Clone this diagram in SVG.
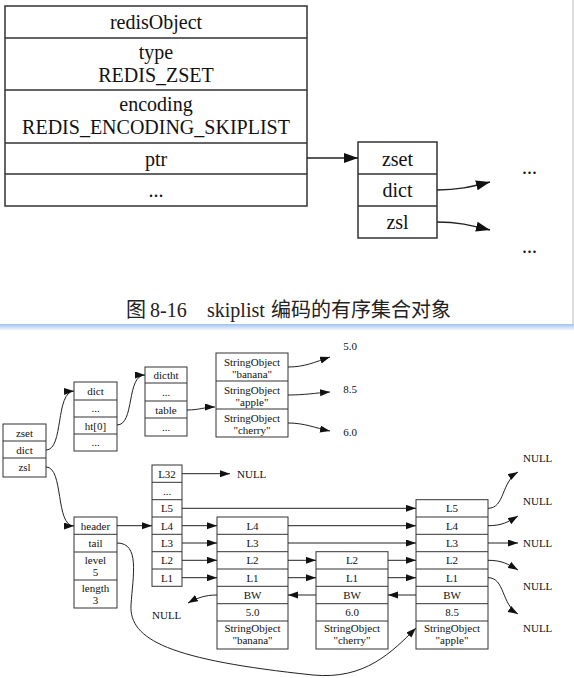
<svg xmlns="http://www.w3.org/2000/svg" width="574" height="678" viewBox="0 0 574 678">
<defs>
<style>
.tb{fill:none;stroke:#333;stroke-width:1.5}
.bb{fill:none;stroke:#333;stroke-width:1}
.c1{fill:none;stroke:#222;stroke-width:1.5}
.c2{fill:none;stroke:#222;stroke-width:1}
.t20{font-family:"Liberation Serif",serif;font-size:20px;text-anchor:middle;fill:#111}
.t11{font-family:"Liberation Serif",serif;font-size:11px;text-anchor:middle;fill:#111}
.t11s{font-family:"Liberation Serif",serif;font-size:11px;fill:#111}
.cap{font-family:"Liberation Serif","Noto Sans CJK SC",serif;font-size:20px;fill:#222}
</style>
<marker id="ab" markerUnits="userSpaceOnUse" markerWidth="15" markerHeight="11" refX="14" refY="5" orient="auto"><path d="M0,0 L14,5 L0,10 z" fill="#111"/></marker>
<marker id="as" markerUnits="userSpaceOnUse" markerWidth="11" markerHeight="8" refX="10" refY="3.5" orient="auto"><path d="M0,0 L10,3.5 L0,7 z" fill="#111"/></marker>
<linearGradient id="sep" x1="0" y1="0" x2="0" y2="1"><stop offset="0" stop-color="#9fc3ef"/><stop offset="1" stop-color="#ffffff"/></linearGradient>
</defs>
<rect x="0" y="0" width="574" height="678" fill="#fff"/>
<line x1="573" y1="0" x2="573" y2="325" stroke="#bbb" stroke-width="1"/>
<rect x="0" y="324" width="574" height="7" fill="url(#sep)"/>

<g id="redisObject">
<rect class="tb" x="5" y="6" width="302" height="200"/>
<path class="tb" d="M5,38H307M5,90H307M5,143H307M5,174H307"/>
<text class="t20" x="156" y="29">redisObject</text>
<text class="t20" x="156" y="59">type</text>
<text class="t20" x="156" y="81.5">REDIS_ZSET</text>
<text class="t20" x="156" y="111">encoding</text>
<text class="t20" x="156" y="133.5">REDIS_ENCODING_SKIPLIST</text>
<text class="t20" x="156" y="166">ptr</text>
<text class="t20" x="156" y="197">...</text>
</g>
<g id="zsetTop">
<rect class="tb" x="358" y="142" width="79" height="96"/>
<path class="tb" d="M358,174H437M358,206H437"/>
<text class="t20" x="397.5" y="166">zset</text>
<text class="t20" x="397.5" y="197">dict</text>
<text class="t20" x="397.5" y="229">zsl</text>
</g>
<g id="topDots">
<text class="t20" x="529.5" y="174">...</text>
<text class="t20" x="529.5" y="253">...</text>
</g>
<text class="cap" y="317"><tspan x="126">图</tspan><tspan x="150">8-16</tspan><tspan x="207">skiplist</tspan><tspan x="271">编码的有序集合对象</tspan></text>

<g id="zset">
<rect class="bb" x="3" y="424" width="43" height="53"/>
<path class="bb" d="M3,441H46M3,458H46"/>
<text class="t11" x="24.5" y="436.5">zset</text>
<text class="t11" x="24.5" y="453.5">dict</text>
<text class="t11" x="24.5" y="471">zsl</text>
</g>
<g id="dict">
<rect class="bb" x="74" y="382" width="43" height="69"/>
<path class="bb" d="M74,400H117M74,417H117M74,434H117"/>
<text class="t11" x="95.5" y="395">dict</text>
<text class="t11" x="95.5" y="412">...</text>
<text class="t11" x="95.5" y="429.5">ht[0]</text>
<text class="t11" x="95.5" y="446">...</text>
</g>
<g id="dictht">
<rect class="bb" x="145" y="367" width="42" height="69"/>
<path class="bb" d="M145,383H187M145,401H187M145,418H187"/>
<text class="t11" x="166" y="379">dictht</text>
<text class="t11" x="166" y="396">...</text>
<text class="t11" x="166" y="413.5">table</text>
<text class="t11" x="166" y="431">...</text>
</g>
<g id="stringObjects">
<rect class="bb" x="216" y="353" width="72" height="84"/>
<path class="bb" d="M216,381H288M216,409H288"/>
<text class="t11" x="252" y="365.5">StringObject</text>
<text class="t11" x="252" y="377.5">"banana"</text>
<text class="t11" x="252" y="393.5">StringObject</text>
<text class="t11" x="252" y="405.5">"apple"</text>
<text class="t11" x="252" y="421.5">StringObject</text>
<text class="t11" x="252" y="433.5">"cherry"</text>
</g>
<g id="scores">
<text class="t11" x="350" y="350">5.0</text>
<text class="t11" x="350" y="393">8.5</text>
<text class="t11" x="350" y="436">6.0</text>
</g>
<g id="zskiplist">
<rect class="bb" x="74" y="517" width="43" height="91"/>
<path class="bb" d="M74,534.3H117M74,552H117M74,580H117"/>
<text class="t11" x="95.5" y="529.7">header</text>
<text class="t11" x="95.5" y="547">tail</text>
<text class="t11" x="95.5" y="563.5">level</text>
<text class="t11" x="95.5" y="575.5">5</text>
<text class="t11" x="95.5" y="591.5">length</text>
<text class="t11" x="95.5" y="603.5">3</text>
</g>
<g id="headerNode">
<rect class="bb" x="152" y="465" width="30" height="121.3"/>
<path class="bb" d="M152,482.3H182M152,499.7H182M152,517H182M152,534.3H182M152,551.7H182M152,569H182"/>
<text class="t11" x="167" y="477.7">L32</text>
<text class="t11" x="167" y="495">...</text>
<text class="t11" x="167" y="512.3">L5</text>
<text class="t11" x="167" y="529.7">L4</text>
<text class="t11" x="167" y="547">L3</text>
<text class="t11" x="167" y="564.3">L2</text>
<text class="t11" x="167" y="581.7">L1</text>
</g>
<g id="nodeBanana">
<rect class="bb" x="217" y="517" width="71" height="132"/>
<path class="bb" d="M217,534.3H288M217,551.7H288M217,569H288M217,586.3H288M217,603.7H288M217,621H288"/>
<text class="t11" x="252.5" y="529.7">L4</text>
<text class="t11" x="252.5" y="547">L3</text>
<text class="t11" x="252.5" y="564.3">L2</text>
<text class="t11" x="252.5" y="581.7">L1</text>
<text class="t11" x="252.5" y="599">BW</text>
<text class="t11" x="252.5" y="616.3">5.0</text>
<text class="t11" x="252.5" y="632">StringObject</text>
<text class="t11" x="252.5" y="644">"banana"</text>
</g>
<g id="nodeCherry">
<rect class="bb" x="316" y="551.7" width="72" height="97.3"/>
<path class="bb" d="M316,569H388M316,586.3H388M316,603.7H388M316,621H388"/>
<text class="t11" x="352" y="564.3">L2</text>
<text class="t11" x="352" y="581.7">L1</text>
<text class="t11" x="352" y="599">BW</text>
<text class="t11" x="352" y="616.3">6.0</text>
<text class="t11" x="352" y="632">StringObject</text>
<text class="t11" x="352" y="644">"cherry"</text>
</g>
<g id="nodeApple">
<rect class="bb" x="416" y="499.7" width="72" height="149.3"/>
<path class="bb" d="M416,517H488M416,534.3H488M416,551.7H488M416,569H488M416,586.3H488M416,603.7H488M416,621H488"/>
<text class="t11" x="452" y="512.3">L5</text>
<text class="t11" x="452" y="529.7">L4</text>
<text class="t11" x="452" y="547">L3</text>
<text class="t11" x="452" y="564.3">L2</text>
<text class="t11" x="452" y="581.7">L1</text>
<text class="t11" x="452" y="599">BW</text>
<text class="t11" x="452" y="616.3">8.5</text>
<text class="t11" x="452" y="632">StringObject</text>
<text class="t11" x="452" y="644">"apple"</text>
</g>
<g id="nulls">
<text class="t11s" x="237" y="477.7">NULL</text>
<text class="t11s" x="152" y="619">NULL</text>
<text class="t11s" x="523" y="462">NULL</text>
<text class="t11s" x="523" y="505">NULL</text>
<text class="t11s" x="523" y="547">NULL</text>
<text class="t11s" x="523" y="590">NULL</text>
<text class="t11s" x="523" y="632">NULL</text>
</g>

<g id="connectors">
<path class="c1" d="M307,158H358" marker-end="url(#ab)"/>
<path class="c1" d="M437,190C458,190 470,187 490,182" marker-end="url(#ab)"/>
<path class="c1" d="M437,222C458,222 470,225 490,230" marker-end="url(#ab)"/>

<path class="c2" d="M46,450C64,450 55,392 74,391" marker-end="url(#as)"/>
<path class="c2" d="M117,425C135,425 126,375 145,375" marker-end="url(#as)"/>
<path class="c2" d="M187,410C199,410 205,407 215,407" marker-end="url(#as)"/>
<path class="c2" d="M46,467C64,467 55,526 74,526" marker-end="url(#as)"/>
<path class="c2" d="M288,367C305,367 315,362 330,357" marker-end="url(#as)"/>
<path class="c2" d="M288,395C305,395 315,393 330,392" marker-end="url(#as)"/>
<path class="c2" d="M288,423C305,423 315,428 330,431" marker-end="url(#as)"/>

<path class="c2" d="M117,525.7H152" marker-end="url(#as)"/>
<path class="c2" d="M182,473.7H230" marker-end="url(#as)"/>
<path class="c2" d="M182,508.3H416" marker-end="url(#as)"/>
<path class="c2" d="M182,525.7H217" marker-end="url(#as)"/>
<path class="c2" d="M182,543H217" marker-end="url(#as)"/>
<path class="c2" d="M182,560.3H217" marker-end="url(#as)"/>
<path class="c2" d="M182,577.7H217" marker-end="url(#as)"/>
<path class="c2" d="M288,525.7H416" marker-end="url(#as)"/>
<path class="c2" d="M288,543H416" marker-end="url(#as)"/>
<path class="c2" d="M288,560.3H316" marker-end="url(#as)"/>
<path class="c2" d="M288,577.7H316" marker-end="url(#as)"/>
<path class="c2" d="M388,560.3H416" marker-end="url(#as)"/>
<path class="c2" d="M388,577.7H416" marker-end="url(#as)"/>
<path class="c2" d="M316,595H288" marker-end="url(#as)"/>
<path class="c2" d="M416,595H388" marker-end="url(#as)"/>
<path class="c2" d="M217,595C205,595 197,598 188,603" marker-end="url(#as)"/>

<path class="c2" d="M488,508.3C505,508.3 501,482 518,472" marker-end="url(#as)"/>
<path class="c2" d="M488,525.7C502,525.7 508,522 518,516" marker-end="url(#as)"/>
<path class="c2" d="M488,543H518" marker-end="url(#as)"/>
<path class="c2" d="M488,560.3C502,560.3 508,564 518,570" marker-end="url(#as)"/>
<path class="c2" d="M488,577.7C505,577.7 501,604 518,614" marker-end="url(#as)"/>

<path class="c2" d="M117,543C140,543 133,575 131,605C129,640 170,660 313,675C365,680 392,652 416,628" marker-end="url(#as)"/>
</g>
</svg>
